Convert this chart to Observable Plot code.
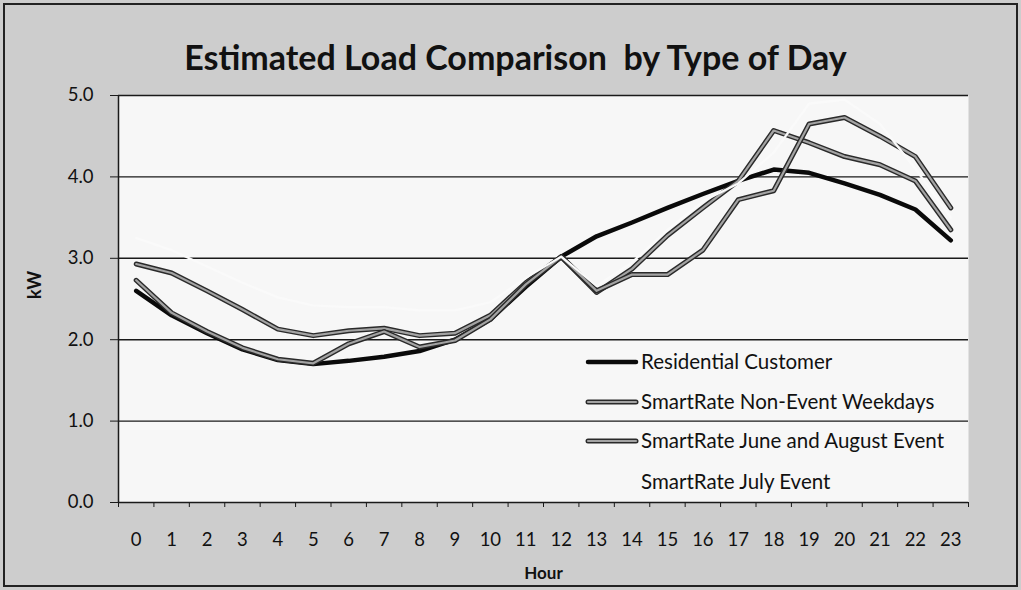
<!DOCTYPE html>
<html><head><meta charset="utf-8">
<script src="https://cdn.jsdelivr.net/npm/d3@7"></script>
<script src="https://cdn.jsdelivr.net/npm/@observablehq/plot@0.6"></script>
<style>
body{margin:0;background:#fff;}
#chart{width:1021px;height:590px;}
svg{display:block;}
</style></head><body><div id="chart"></div>
<script>
// ---- data ----
const hours = [0,1,2,3,4,5,6,7,8,9,10,11,12,13,14,15,16,17,18,19,20,21,22,23];
const yTicks = [0,1,2,3,4,5];
const seriesNames = ["Residential Customer","SmartRate Non-Event Weekdays","SmartRate June and August Event","SmartRate July Event"];
const residential = [2.60,2.30,2.08,1.88,1.75,1.70,1.74,1.79,1.86,2.00,2.25,2.65,3.02,3.27,3.44,3.62,3.79,3.95,4.09,4.05,3.92,3.78,3.60,3.22];
const nonEvent    = [2.93,2.82,2.60,2.37,2.13,2.05,2.11,2.14,2.05,2.08,2.30,2.70,3.02,2.58,2.87,3.28,3.62,3.95,4.57,4.42,4.25,4.15,3.95,3.35];
const juneAug     = [2.73,2.33,2.10,1.90,1.76,1.71,1.95,2.10,1.91,1.99,2.25,2.68,3.02,2.60,2.80,2.80,3.10,3.72,3.83,4.65,4.73,4.50,4.25,3.62];
const july        = [3.25,3.10,2.90,2.70,2.52,2.42,2.40,2.40,2.36,2.36,2.46,2.76,3.02,2.66,2.95,3.35,3.70,3.92,4.30,4.90,4.95,4.65,4.10,3.50];

const toRows = (vals, name) => hours.map((h, i) => ({hour: h, kw: vals[i], series: name}));
const resRows = toRows(residential, seriesNames[0]);
const neRows = toRows(nonEvent, seriesNames[1]);
const jaRows = toRows(juneAug, seriesNames[2]);
const julRows = toRows(july, seriesNames[3]);
const bounds = hours.map(h => h - 0.5).concat([hours[hours.length-1] + 0.5]);

const font = "Lato, 'Open Sans', sans-serif";
const chart = Plot.plot({
  width: 1021, height: 590,
  marginLeft: 118, marginRight: 53, marginTop: 95, marginBottom: 88,
  style: {background: "#cdcdcd", fontFamily: font, fontSize: "18.5px", color: "#111",
          outline: "2px solid #222", outlineOffset: "-5px"},
  x: {type: "linear", domain: [bounds[0], bounds[bounds.length-1]]},
  y: {domain: [0, 5]},
  marks: [
    Plot.frame({fill: "#f7f7f7", stroke: null}),
    Plot.gridY(yTicks.slice(1), {stroke: "#1a1a1a", strokeOpacity: 1, strokeWidth: 1.4}),
    Plot.ruleY([0], {stroke: "#1a1a1a", strokeWidth: 1.5}),
    Plot.ruleX([bounds[0]], {stroke: "#1a1a1a", strokeWidth: 1.5}),
    Plot.axisY({ticks: yTicks, tickFormat: d3.format(".1f"), tickSize: 8, tickPadding: 17, label: null, stroke: "#1a1a1a"}),
    Plot.axisX({ticks: bounds, tickFormat: () => "", tickSize: 5, label: null, stroke: "#1a1a1a"}),
    Plot.axisX({ticks: hours, tickSize: 0, tickPadding: 30, label: null}),
    Plot.line(resRows, {x: "hour", y: "kw", stroke: "#0a0a0a", strokeWidth: 4.5}),
    Plot.line(neRows, {x: "hour", y: "kw", stroke: "#2a2a2a", strokeWidth: 5}),
    Plot.line(neRows, {x: "hour", y: "kw", stroke: "#a3a3a3", strokeWidth: 2.2}),
    Plot.line(jaRows, {x: "hour", y: "kw", stroke: "#2a2a2a", strokeWidth: 5}),
    Plot.line(jaRows, {x: "hour", y: "kw", stroke: "#a3a3a3", strokeWidth: 2.2}),
    Plot.line(julRows, {x: "hour", y: "kw", stroke: "#fafafa", strokeWidth: 2.2}),
    Plot.text(["Estimated Load Comparison  by Type of Day"], {text: d => d, frameAnchor: "top", dx: -28, dy: -50, fontSize: 34, fontWeight: "bold", fill: "#111"}),
    Plot.text(["Hour"], {text: d => d, frameAnchor: "bottom", dy: 76, fontSize: 17, fontWeight: "bold", fill: "#111"}),
    Plot.text(["kW"], {text: d => d, frameAnchor: "left", dx: -83, rotate: -90, fontSize: 18, fontWeight: "bold", fill: "#111"})
  ]
});

// ---- legend ----
const svg = d3.select(chart);
const lg = svg.append("g").attr("font-family", font).attr("font-size", 20.5).attr("fill", "#111").attr("text-anchor", "start");
const rowY = [362, 402, 441, 482];
const swatch = [
  [{c: "#0a0a0a", w: 4.5}],
  [{c: "#2a2a2a", w: 5}, {c: "#a3a3a3", w: 2.2}],
  [{c: "#2a2a2a", w: 5}, {c: "#a3a3a3", w: 2.2}],
  []
];
seriesNames.forEach((name, i) => {
  swatch[i].forEach(s => lg.append("line").attr("x1", 588).attr("x2", 636).attr("y1", rowY[i]).attr("y2", rowY[i])
    .attr("stroke", s.c).attr("stroke-width", s.w).attr("stroke-linecap", "round"));
  lg.append("text").attr("x", 641).attr("y", rowY[i]).attr("dy", "0.35em").text(name);
});

document.getElementById("chart").appendChild(chart);
</script></body></html>
